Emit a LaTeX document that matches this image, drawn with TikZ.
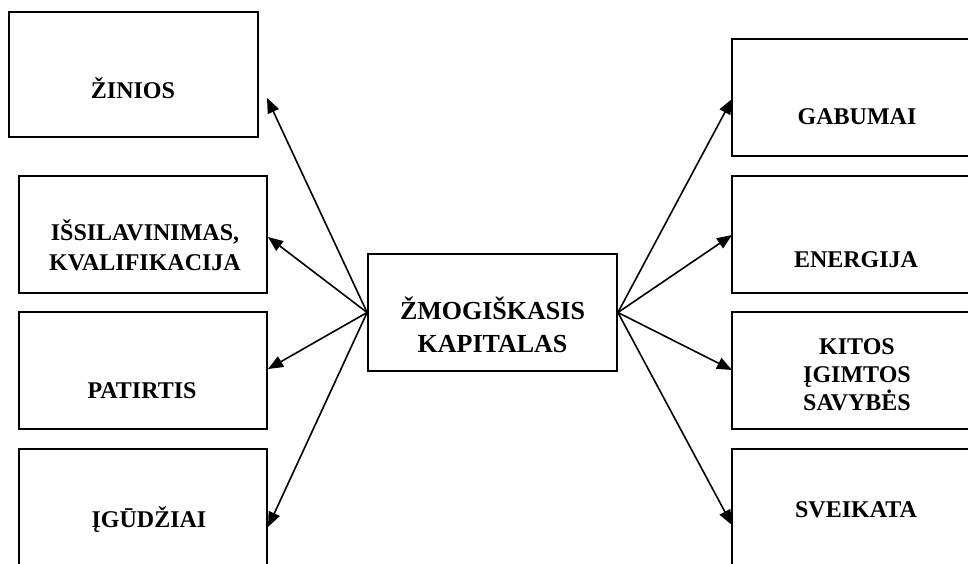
\documentclass[tikz,border=0pt]{standalone}
\usepackage{fontspec}
\setmainfont{Liberation Serif}
\usetikzlibrary{arrows.meta}
\begin{document}
\begin{tikzpicture}[x=1pt,y=-1pt,
  box/.style={draw, line width=1.8pt, inner sep=0pt},
  lbl/.style={font=\bfseries\fontsize{24}{30}\selectfont, align=center, inner sep=0pt, anchor=base},
  clbl/.style={font=\bfseries\fontsize{26}{33}\selectfont, align=center, inner sep=0pt, anchor=base},
  arr/.style={-{Triangle[length=15pt,width=12pt]}, line width=1.6pt}]
\useasboundingbox (0,0) rectangle (968,563);
\clip (0,0) rectangle (968,563);
% boxes
\node[box, minimum width=249pt, minimum height=125pt] (bz) at (133.5,74.5) {};
\node[box, minimum width=248pt, minimum height=117pt] (bi) at (143,234.5) {};
\node[box, minimum width=248pt, minimum height=117pt] (bp) at (143,370.5) {};
\node[box, minimum width=248pt, minimum height=131pt] (bg) at (143,514.5) {};
\node[box, minimum width=258pt, minimum height=117pt] (bga) at (861,97.5) {};
\node[box, minimum width=258pt, minimum height=117pt] (be) at (861,234.5) {};
\node[box, minimum width=258pt, minimum height=117pt] (bk) at (861,370.5) {};
\node[box, minimum width=258pt, minimum height=131pt] (bs) at (861,514.5) {};
\node[box, minimum width=249pt, minimum height=117pt] (c) at (492.5,312.5) {};
% labels (base = baseline of last line)
\node[lbl] (tz) at (133,98) {ŽINIOS};
\node[lbl] (ti) at (145,270) {IŠSILAVINIMAS,\\KVALIFIKACIJA};
\node[lbl] (tp) at (142,398) {PATIRTIS};
\node[lbl] (tg) at (149,527) {ĮGŪDŽIAI};
\node[lbl] (tga) at (857,124) {GABUMAI};
\node[lbl] (te) at (856,267) {ENERGIJA};
\node[lbl, font=\bfseries\fontsize{24}{28}\selectfont] (tk) at (857,410) {KITOS\\ĮGIMTOS\\SAVYBĖS};
\node[lbl] (ts) at (856,517) {SVEIKATA};
\node[clbl] (tc) at (492.5,352) {ŽMOGIŠKASIS\\KAPITALAS};
% arrow tips
\coordinate (az) at (267,98);
\coordinate (ai) at (268,237);
\coordinate (ap) at (268,369);
\coordinate (ag) at (268,527);
\coordinate (aga) at (732,99);
\coordinate (ae) at (732,235);
\coordinate (ak) at (732,370);
\coordinate (as) at (732,525);
% arrows
\draw[arr] (c.west) -- (az);
\draw[arr] (c.west) -- (ai);
\draw[arr] (c.west) -- (ap);
\draw[arr] (c.west) -- (ag);
\draw[arr] (c.east) -- (aga);
\draw[arr] (c.east) -- (ae);
\draw[arr] (c.east) -- (ak);
\draw[arr] (c.east) -- (as);
\end{tikzpicture}
\end{document}
